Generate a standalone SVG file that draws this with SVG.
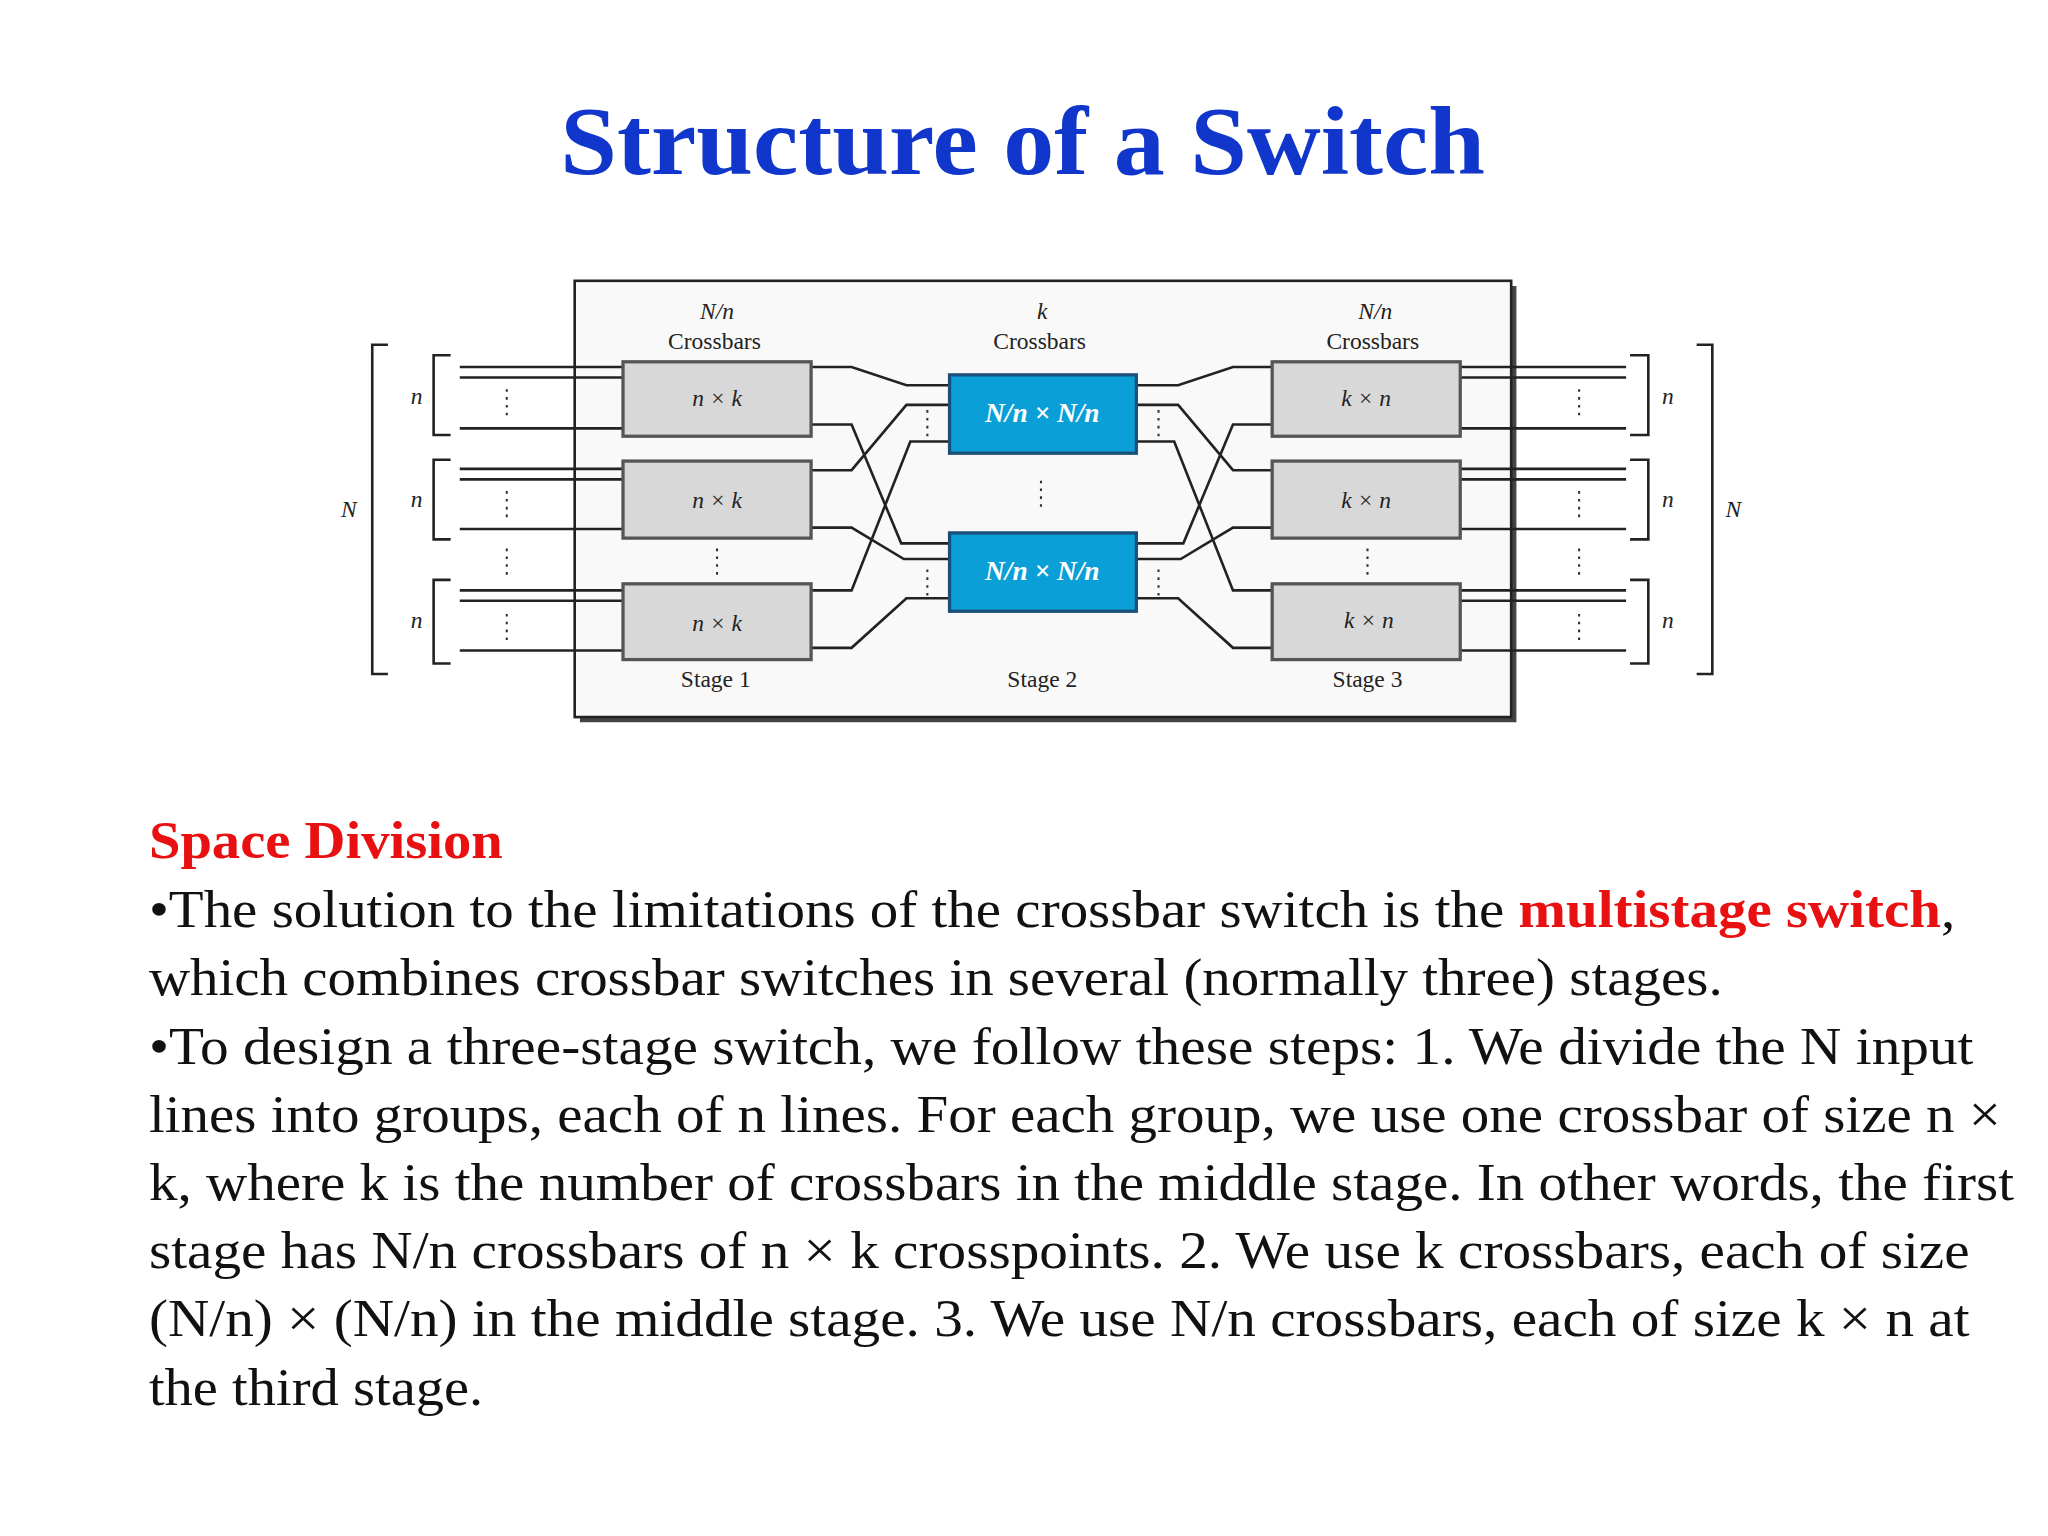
<svg xmlns="http://www.w3.org/2000/svg" width="2048" height="1536" viewBox="0 0 2048 1536">
<style>
.ln{fill:none;stroke:#222;stroke-width:2}
.g{fill:#d8d8d8;stroke:#555;stroke-width:2.5}
.b{fill:#0a9fd6;stroke:#1b4f7a;stroke-width:2.5}
.t{font-family:"Liberation Serif",serif;font-size:18px;fill:#222;text-anchor:middle}
.i{font-style:italic}
.w{font-family:"Liberation Serif",serif;font-size:21px;fill:#fff;font-weight:bold;font-style:italic;text-anchor:middle}
.d{fill:none;stroke:#333;stroke-width:1.6;stroke-dasharray:2 4}
.body{font-family:"Liberation Serif",serif;font-size:41px;fill:#111}
</style>
<rect width="2048" height="1536" fill="#fff"/>
<g transform="scale(1.30612)">
<text x="783" y="133" font-family="Liberation Serif,serif" font-weight="bold" font-size="74" fill="#1036cc" text-anchor="middle" textLength="708" lengthAdjust="spacingAndGlyphs">Structure of a Switch</text>
<g id="frame">
<path d="M1159,219 V551 H444" fill="none" stroke="#444" stroke-width="4"/>
<rect x="440" y="215" width="717" height="334" fill="#f9f9f9" stroke="#222" stroke-width="2"/>
</g>
<g id="labels">
<text class="t i" x="549" y="244">N/n</text><text class="t" x="547" y="267">Crossbars</text>
<text class="t i" x="798" y="244">k</text><text class="t" x="796" y="267">Crossbars</text>
<text class="t i" x="1053" y="244">N/n</text><text class="t" x="1051" y="267">Crossbars</text>
<text class="t" x="548" y="526">Stage 1</text><text class="t" x="798" y="526">Stage 2</text><text class="t" x="1047" y="526">Stage 3</text>
<text class="t i" x="267" y="396">N</text><text class="t i" x="1327" y="396">N</text>
<text class="t i" x="319" y="309" font-size="16">n</text><text class="t i" x="319" y="388" font-size="16">n</text><text class="t i" x="319" y="481" font-size="16">n</text>
<text class="t i" x="1277" y="309" font-size="16">n</text><text class="t i" x="1277" y="388" font-size="16">n</text><text class="t i" x="1277" y="481" font-size="16">n</text>
</g>
<g id="connectors">
<path class="ln" d="M297,264 H285 V516 H297 M345,272 H332 V333 H345 M345,352 H332 V413 H345 M345,444 H332 V508 H345"/>
<path class="ln" d="M1299,264 H1311 V516 H1299 M1248,272 H1262 V333 H1248 M1248,352 H1262 V413 H1248 M1248,444 H1262 V508 H1248"/>
<path class="ln" d="M352,281 H477 M352,289 H477 M352,328 H477 M352,359 H477 M352,367 H477 M352,405 H477 M352,452 H477 M352,460 H477 M352,498 H477"/>
<path class="ln" d="M1118,281 H1245 M1118,289 H1245 M1118,328 H1245 M1118,359 H1245 M1118,367 H1245 M1118,405 H1245 M1118,452 H1245 M1118,460 H1245 M1118,498 H1245"/>
<path class="ln" d="M621,281 H652 L694,295 H727 M621,325 H652 L690,416 H727 M621,360 H652 L694,310 H727 M621,404 H652 L692,428 H727 M621,452 H652 L697,338 H727 M621,496 H652 L694,458 H727"/>
<path class="ln" d="M975,281 H944 L902,295 H870 M975,325 H944 L906,416 H870 M975,360 H944 L902,310 H870 M975,404 H944 L904,428 H870 M975,452 H944 L899,338 H870 M975,496 H944 L902,458 H870"/>
<path class="d" d="M388,298 V322 M388,376 V400 M388,470 V494 M388,420 V442 M549,420 V442 M797,368 V390 M1047,420 V442 M1209,298 V322 M1209,376 V400 M1209,420 V442 M1209,470 V494 M710,314 V336 M710,436 V458 M887,314 V336 M887,436 V458"/>
</g>
<g id="s1a"><rect class="g" x="477" y="277" width="144" height="57"/><text class="t i" x="549" y="311">n × k</text></g>
<g id="s1b"><rect class="g" x="477" y="353" width="144" height="59"/><text class="t i" x="549" y="389">n × k</text></g>
<g id="s1c"><rect class="g" x="477" y="447" width="144" height="58"/><text class="t i" x="549" y="483">n × k</text></g>
<g id="s2a"><rect class="b" x="727" y="287" width="143" height="60"/><text class="w" x="798" y="323">N/n × N/n</text></g>
<g id="s2b"><rect class="b" x="727" y="408" width="143" height="60"/><text class="w" x="798" y="444">N/n × N/n</text></g>
<g id="s3a"><rect class="g" x="974" y="277" width="144" height="57"/><text class="t i" x="1046" y="311">k × n</text></g>
<g id="s3b"><rect class="g" x="974" y="353" width="144" height="59"/><text class="t i" x="1046" y="389">k × n</text></g>
<g id="s3c"><rect class="g" x="974" y="447" width="144" height="58"/><text class="t i" x="1048" y="481">k × n</text></g>
<g id="text">
<text x="114" y="657" font-family="Liberation Serif,serif" font-weight="bold" font-size="41" fill="#e81010" textLength="271" lengthAdjust="spacingAndGlyphs">Space Division</text>
<text class="body" x="114" y="710" textLength="1383" lengthAdjust="spacingAndGlyphs">•The solution to the limitations of the crossbar switch is the <tspan font-weight="bold" fill="#e81010">multistage switch</tspan>,</text>
<text class="body" x="114" y="762" textLength="1205" lengthAdjust="spacingAndGlyphs">which combines crossbar switches in several (normally three) stages.</text>
<text class="body" x="114" y="815" textLength="1397" lengthAdjust="spacingAndGlyphs">•To design a three-stage switch, we follow these steps: 1. We divide the N input</text>
<text class="body" x="114" y="867" textLength="1418" lengthAdjust="spacingAndGlyphs">lines into groups, each of n lines. For each group, we use one crossbar of size n ×</text>
<text class="body" x="114" y="919" textLength="1428" lengthAdjust="spacingAndGlyphs">k, where k is the number of crossbars in the middle stage. In other words, the first</text>
<text class="body" x="114" y="971" textLength="1394" lengthAdjust="spacingAndGlyphs">stage has N/n crossbars of n × k crosspoints. 2. We use k crossbars, each of size</text>
<text class="body" x="114" y="1023" textLength="1394" lengthAdjust="spacingAndGlyphs">(N/n) × (N/n) in the middle stage. 3. We use N/n crossbars, each of size k × n at</text>
<text class="body" x="114" y="1076" textLength="256" lengthAdjust="spacingAndGlyphs">the third stage.</text>
</g>
</g>
</svg>
